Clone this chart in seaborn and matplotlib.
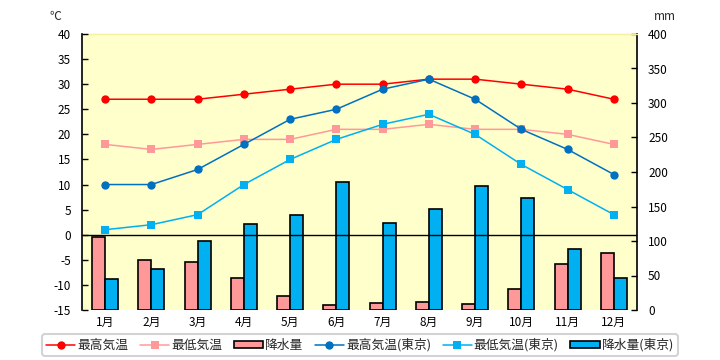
import numpy as np
import pandas as pd
import matplotlib
matplotlib.use("Agg")
import matplotlib.pyplot as plt
import seaborn as sns
from matplotlib.lines import Line2D
from matplotlib.patches import Patch

months = ["1月", "2月", "3月", "4月", "5月", "6月", "7月", "8月", "9月", "10月", "11月", "12月"]
max_temp = [27, 27, 27, 28, 29, 30, 30, 31, 31, 30, 29, 27]
min_temp = [18, 17, 18, 19, 19, 21, 21, 22, 21, 21, 20, 18]
precip = [106, 73, 69, 47, 20, 7, 10, 11, 8, 30, 66, 82]
max_tokyo = [10, 10, 13, 18, 23, 25, 29, 31, 27, 21, 17, 12]
min_tokyo = [1, 2, 4, 10, 15, 19, 22, 24, 20, 14, 9, 4]
precip_tokyo = [45, 60, 100, 124, 137, 185, 126, 147, 179, 163, 89, 46]

sns.set_theme(style="white")
plt.rcParams['font.family'] = ['Noto Sans CJK JP', 'DejaVu Sans']
plt.rcParams['axes.unicode_minus'] = False

fig = plt.figure(figsize=(7.2, 3.6), dpi=100)
ax = fig.add_axes([82/720, 1-310/360, 555/720, 276/360])
ax2 = ax.twinx()

# bars on the right (precipitation) axis
df_bar = pd.DataFrame({
    "month": months * 2,
    "series": ["降水量"] * 12 + ["降水量(東京)"] * 12,
    "value": precip + precip_tokyo,
})
sns.barplot(data=df_bar, x="month", y="value", hue="series", ax=ax2,
            palette=["#FF9999", "#00B0F0"], edgecolor="black", linewidth=1.2,
            width=0.56, gap=0, legend=False, saturation=1)

# layering: temperature axis above bars
ax.set_zorder(ax2.get_zorder() + 1)
ax.patch.set_visible(False)
ax2.patch.set_visible(True)
ax2.patch.set_facecolor("#FFFFCC")

x = np.arange(12)
ax.axhline(0, color="black", lw=1, zorder=1)
sns.lineplot(x=x, y=max_temp, ax=ax, color="#FF0000", marker="o", markersize=6,
             markeredgewidth=0, lw=1.1)
sns.lineplot(x=x, y=min_temp, ax=ax, color="#FF9999", marker="s", markersize=6.2,
             markeredgewidth=0, lw=1.1)
sns.lineplot(x=x, y=max_tokyo, ax=ax, color="#0070C0", marker="o", markersize=6,
             markeredgewidth=0, lw=1.1)
sns.lineplot(x=x, y=min_tokyo, ax=ax, color="#00B0F0", marker="s", markersize=6.2,
             markeredgewidth=0, lw=1.1)

ax.set_xlim(-0.5, 11.5)
ax2.set_xlim(-0.5, 11.5)
ax.set_ylim(-15, 40)
ax2.set_ylim(0, 400)
ax.set_yticks(range(-15, 41, 5))
ax2.set_yticks(range(0, 401, 50))
ax.set_xticks(x)
ax.set_xticklabels(months)
ax.set_xlabel("")
ax.set_ylabel("")
ax2.set_xlabel("")
ax2.set_ylabel("")

for a in (ax, ax2):
    for s in a.spines.values():
        s.set_visible(False)
ax.spines["left"].set_visible(True)
ax.spines["left"].set_color("black")
ax.spines["left"].set_linewidth(1.2)
ax2.spines["right"].set_visible(True)
ax2.spines["right"].set_color("black")
ax2.spines["right"].set_linewidth(1.2)
ax2.spines["top"].set_visible(True)
ax2.spines["top"].set_color("#F5F0A0")
ax2.spines["top"].set_linewidth(1)

ax.tick_params(axis="y", direction="in", length=4, width=1, labelsize=8.5, pad=8, colors="black")
ax.tick_params(axis="x", length=0, labelsize=8.5, pad=4, colors="black")
ax2.tick_params(axis="y", direction="in", length=4, width=1, labelsize=8.5, pad=8, colors="black")
ax2.tick_params(axis="x", length=0, labelbottom=False)

fig.text(55/720, 1-16/360, "℃", fontsize=8.5, ha="center", va="center")
fig.text(665/720, 1-16/360, "mm", fontsize=8.5, ha="center", va="center")

handles = [
    Line2D([], [], color="#FF0000", marker="o", markersize=6, markeredgewidth=0, lw=1.1),
    Line2D([], [], color="#FF9999", marker="s", markersize=6.2, markeredgewidth=0, lw=1.1),
    Patch(facecolor="#FF9999", edgecolor="black", linewidth=1.2),
    Line2D([], [], color="#0070C0", marker="o", markersize=6, markeredgewidth=0, lw=1.1),
    Line2D([], [], color="#00B0F0", marker="s", markersize=6.2, markeredgewidth=0, lw=1.1),
    Patch(facecolor="#00B0F0", edgecolor="black", linewidth=1.2),
]
labels = ["最高気温", "最低気温", "降水量", "最高気温(東京)", "最低気温(東京)", "降水量(東京)"]
leg = fig.legend(handles, labels, loc="center", bbox_to_anchor=(360/720, 1-345/360),
                 ncol=6, fontsize=9.2, frameon=True, fancybox=True, handlelength=2.3,
                 handleheight=0.45, columnspacing=0.9, handletextpad=0.15,
                 borderpad=0.3, edgecolor="#C8C8C8")
leg.get_frame().set_linewidth(1.5)

fig.savefig("out.png", dpi=100, facecolor="white")
